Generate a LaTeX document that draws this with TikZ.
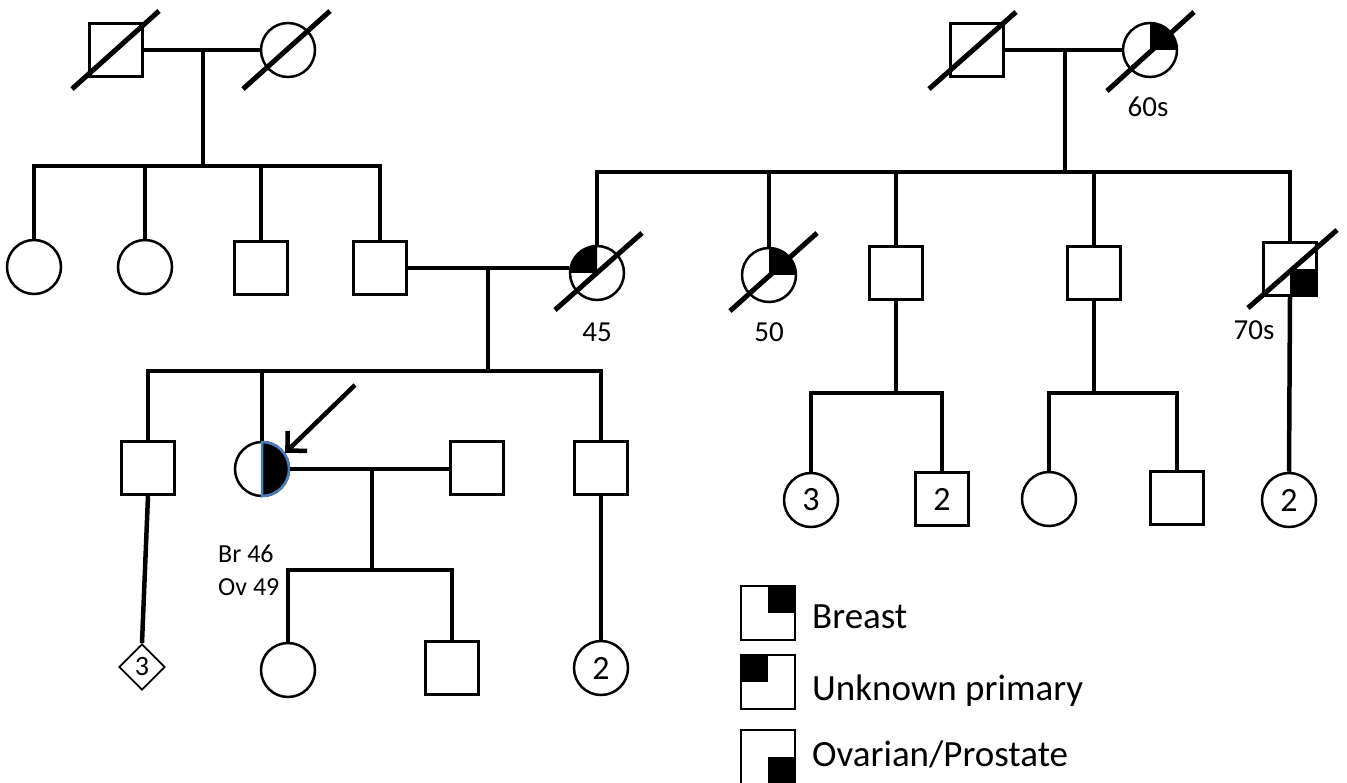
\documentclass[tikz,border=0pt]{standalone}
\usepackage{fontspec}
\setmainfont{Carlito}
\usepackage{tikz}
\usetikzlibrary{positioning,arrows.meta,calc,shapes.geometric}
\definecolor{probBlue}{HTML}{4A7EBB}

\begin{document}
\begin{tikzpicture}[x=1pt, y=1pt,
    sq/.style={draw, line width=2.5pt, rectangle, minimum size=53pt, inner sep=0pt, font=\fontsize{34}{38}\selectfont},
    ci/.style={draw, line width=2.5pt, circle, minimum size=54pt, inner sep=0pt, font=\fontsize{34}{38}\selectfont},
    dia/.style={draw, line width=1.8pt, diamond, minimum size=46pt, inner sep=0pt, font=\fontsize{28}{32}\selectfont},
    rel/.style={line width=4.5pt},
    dead/.style={line width=5pt},
    lbl/.style={font=\fontsize{29}{33}\selectfont, inner sep=0pt},
    legtxt/.style={font=\fontsize{37}{42}\selectfont, inner sep=0pt, anchor=base west}]
    \useasboundingbox (0,0) rectangle (1347,-783);

    % Abuelos paternos
    \node[sq] (sqI1) at (116,-50) {};
    \node[ci] (ciI2) at (288,-50) {};

    % Abuelos maternos
    \node[sq] (sqI3) at (977,-50) {};
    \node[ci] (ciI4) at (1150,-50) {};
    \fill (ciI4.center) -- ++(0,27) arc[start angle=90, end angle=0, radius=27] -- cycle;

    % Hijos (izquierda)
    \node[ci] (ciA) at (34,-267) {};
    \node[ci] (ciB) at (145,-267) {};
    \node[sq] (sqC) at (261,-268) {};
    \node[sq] (sqD) at (380,-268) {};

    % Hijos (derecha)
    \node[ci] (ci45) at (597,-273) {};
    \fill (ci45.center) -- ++(0,27) arc[start angle=90, end angle=180, radius=27] -- cycle;
    \node[ci] (ci50) at (769,-275) {};
    \fill (ci50.center) -- ++(0,27) arc[start angle=90, end angle=0, radius=27] -- cycle;
    \node[sq] (sqE) at (896,-273) {};
    \node[sq] (sqF) at (1094,-273) {};
    \node[sq] (sqG) at (1290,-269) {};
    \fill (sqG.center) rectangle ++(27,-26);

    % Nietos (izquierda)
    \node[sq] (sqM) at (148,-468) {};
    \node[ci] (pro) at (262,-469) {};
    \filldraw[fill=black, draw=probBlue, line width=2.5pt] (pro.center) ++(0,27) arc[start angle=90, end angle=-90, radius=27] -- cycle;
    \node[sq] (sqO) at (477,-468) {};
    \node[sq] (sqN) at (601,-468) {};

    % Nietos (derecha)
    \node[ci] (ciH) at (811,-500) {3};
    \node[sq] (sqI) at (942,-499) {2};
    \node[ci] (ciJ) at (1049,-499) {};
    \node[sq] (sqK) at (1177,-498) {};
    \node[ci] (ciL) at (1289,-500) {2};

    % Bisnietos
    \node[dia] (diaS) at (142,-667) {3};
    \node[ci] (ciP) at (288,-670) {};
    \node[sq] (sqQ) at (452,-668) {};
    \node[ci] (ciR) at (601,-668) {2};

    % Parejas y hermandades
    \draw[rel] (sqI1) -- (ciI2);
    \coordinate (cpL) at (203,-50);
    \coordinate (sibL) at (203,-166);
    \draw[rel] (cpL) -- (sibL);
    \draw[rel] (ciA.north) -- (ciA.north |- sibL) -| (sqD.north);
    \draw[rel] (ciB.north) -- (ciB.north |- sibL);
    \draw[rel] (sqC.north) -- (sqC.north |- sibL);

    \draw[rel] (sqI3) -- (ciI4);
    \coordinate (cpR) at (1065,-50);
    \coordinate (sibR) at (1065,-172);
    \draw[rel] (cpR) -- (sibR);
    \draw[rel] (ci45.north) -- (ci45.north |- sibR) -| (sqG.north);
    \draw[rel] (ci50.north) -- (ci50.north |- sibR);
    \draw[rel] (sqE.north) -- (sqE.north |- sibR);
    \draw[rel] (sqF.north) -- (sqF.north |- sibR);

    \draw[rel] (sqD.east) -- (sqD.east -| ci45.west);
    \coordinate (cpM) at (488,-269);
    \coordinate (sibM) at (488,-371);
    \draw[rel] (cpM) -- (sibM);
    \draw[rel] (sqM.north) -- (sqM.north |- sibM) -| (sqN.north);
    \draw[rel] (pro.north) -- (pro.north |- sibM);

    \draw[rel] (pro.east) -- (pro.east -| sqO.west);
    \coordinate (cpP) at (372,-469);
    \coordinate (sibP) at (372,-570);
    \draw[rel] (cpP) -- (sibP);
    \draw[rel] (ciP.north) -- (ciP.north |- sibP) -| (sqQ.north);

    \draw[rel] (sqM.south) -- (diaS.north);
    \draw[rel] (sqN.south) -- (ciR.north);

    \coordinate (sibE) at (896,-393);
    \draw[rel] (sqE.south) -- (sibE);
    \draw[rel] (ciH.north) -- (ciH.north |- sibE) -| (sqI.north);
    \coordinate (sibF) at (1094,-393);
    \draw[rel] (sqF.south) -- (sibF);
    \draw[rel] (ciJ.north) -- (ciJ.north |- sibF) -| (sqK.north);
    \draw[rel] (sqG.south) -- (ciL.north);

    % Fallecidos
    \draw[dead] ($(sqI1)+(-44,-39)$) -- ($(sqI1)+(43,39)$);
    \draw[dead] ($(ciI2)+(-45,-39)$) -- ($(ciI2)+(42,39)$);
    \draw[dead] ($(sqI3)+(-48,-39)$) -- ($(sqI3)+(39,38)$);
    \draw[dead] ($(ciI4)+(-43,-41)$) -- ($(ciI4)+(44,38)$);
    \draw[dead] ($(ci45)+(-42,-37)$) -- ($(ci45)+(45,40)$);
    \draw[dead] ($(ci50)+(-39,-36)$) -- ($(ci50)+(48,42)$);
    \draw[dead] ($(sqG)+(-42,-39)$) -- ($(sqG)+(47,39)$);

    % Edades
    \node[lbl, anchor=base] (t60) at (1148,-117) {60s};
    \node[lbl, anchor=base] (t45) at (597,-342) {45};
    \node[lbl, anchor=base] (t50) at (769,-342) {50};
    \node[lbl, anchor=base] (t70) at (1254,-340) {70s};
    \node[lbl, anchor=base west, font=\fontsize{26}{30}\selectfont] (tBr) at (218,-562) {Br 46};
    \node[lbl, anchor=base west, font=\fontsize{26}{30}\selectfont] (tOv) at (218,-595) {Ov 49};

    % Probando
    \coordinate (arrTail) at (355,-385);
    \draw[rel, -{Straight Barb[length=14pt, width=28pt, line width=4.5pt]}] (arrTail) -- (pro.35);

    % Leyenda
    \node[sq, minimum size=54pt] (legB) at (768,-613) {};
    \fill (legB.center) rectangle ++(28,27);
    \node[legtxt] (txtB) at (812,-628) {Breast};
    \node[sq, minimum size=54pt] (legU) at (768,-682) {};
    \fill (legU.center) rectangle ++(-28,27);
    \node[legtxt] (txtU) at (812,-700) {Unknown primary};
    \node[sq, minimum size=54pt] (legO) at (768,-757) {};
    \fill (legO.center) rectangle ++(28,-27);
    \node[legtxt] (txtO) at (812,-766) {Ovarian/Prostate};
\end{tikzpicture}
\end{document}
